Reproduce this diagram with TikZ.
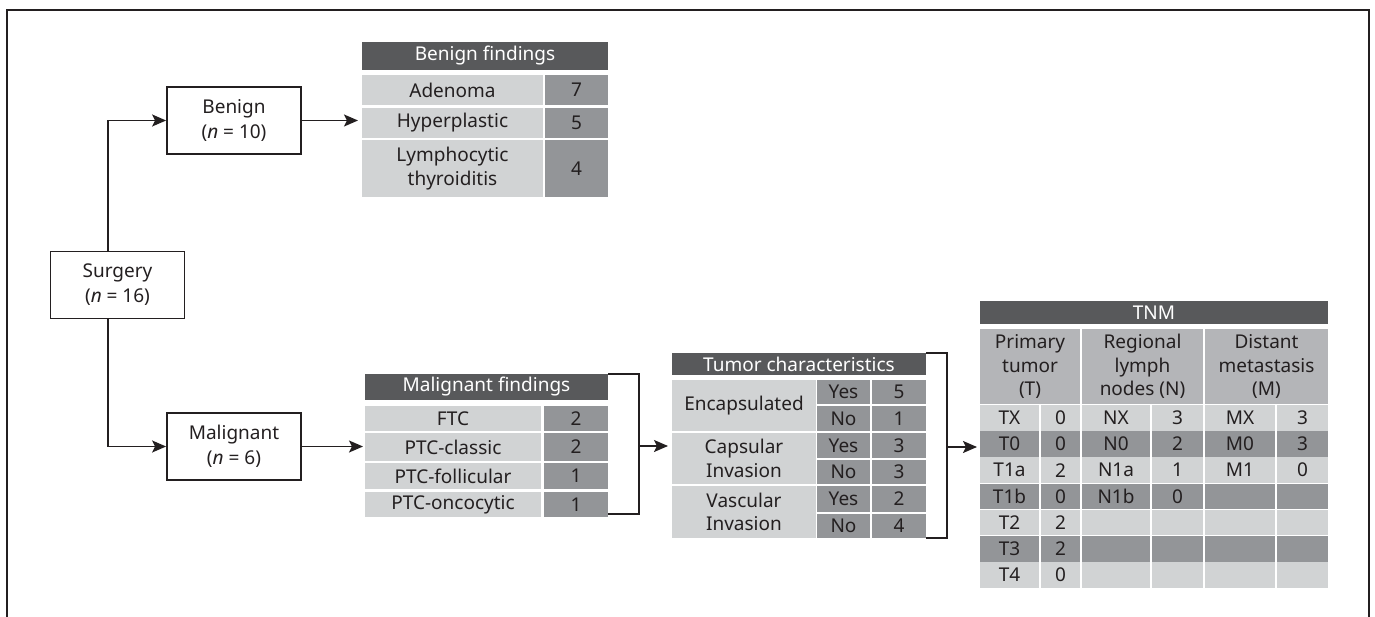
\documentclass[tikz,border=0pt]{standalone}
\usepackage{fontspec}
\setmainfont{Noto Sans}
\usetikzlibrary{arrows.meta}
\definecolor{txt}{HTML}{231F20}
\definecolor{hdr}{HTML}{58595B}
\definecolor{lite}{HTML}{D1D3D4}
\definecolor{midg}{HTML}{939598}
\definecolor{subg}{HTML}{B4B5B8}
\newcommand\tcell[7]{%
  \pgfmathsetmacro\tcW{#5-#3}\pgfmathsetmacro\tcH{#6-#4}%
  \pgfmathsetmacro\tcX{(#3+#5)/2}\pgfmathsetmacro\tcY{(#4+#6)/2}%
  \node[cellbase,#2,minimum width=\tcW pt,minimum height=\tcH pt] (#1) at (\tcX,\tcY) {#7};}
\newcommand\tnmrow[8]{%
  \pgfmathsetmacro\rT{405+26.2*#1}\pgfmathsetmacro\rB{\rT+25.5}%
  \tcell{t#1a}{#2}{980}{\rT}{1039}{\rB}{#3}%
  \tcell{t#1b}{#2}{1041}{\rT}{1080}{\rB}{#4}%
  \tcell{n#1a}{#2}{1082}{\rT}{1150}{\rB}{#5}%
  \tcell{n#1b}{#2}{1152}{\rT}{1203}{\rB}{#6}%
  \tcell{m#1a}{#2}{1205}{\rT}{1275}{\rB}{#7}%
  \tcell{m#1b}{#2}{1277}{\rT}{1328}{\rB}{#8}}
\begin{document}
\begin{tikzpicture}[x=1pt,y=-1pt,
  font=\fontsize{19}{23.5}\selectfont, text=txt,
  cellbase/.style={inner sep=0pt, outer sep=0pt, align=center},
  hcell/.style={fill=hdr, text=white},
  lcell/.style={fill=lite},
  mcell/.style={fill=midg},
  scell/.style={fill=subg},
  boxnode/.style={draw=txt, line width=1.8pt, minimum width=134pt, minimum height=67pt,
    align=center, inner sep=0pt, font=\fontsize{19}{25}\selectfont},
  conn/.style={draw=txt, line width=1.8pt},
  arr/.style={conn, -{Stealth[length=14pt,width=12pt,inset=3pt]}}]
\useasboundingbox (0,0) rectangle (1375,617);
% frame
\draw[conn] (7,617) -- (7,10) -- (1369,10) -- (1369,617);
% boxes
\node[boxnode] (surg) at (117.5,285) {Surgery\\(\textit{n} = 16)};
\node[boxnode] (ben) at (234,120.5) {Benign\\(\textit{n} = 10)};
\node[boxnode] (mal) at (234,446.5) {Malignant\\(\textit{n} = 6)};
% benign table
\tcell{bhd}{hcell}{362}{42}{608}{70}{Benign findings}
\tcell{bad}{lcell}{362}{75}{543}{105}{Adenoma}
\tcell{badn}{mcell}{545}{75}{608}{105}{7}
\tcell{bhyp}{lcell}{362}{108}{543}{138}{Hyperplastic}
\tcell{bhypn}{mcell}{545}{108}{608}{138}{5}
\tcell{bly}{lcell}{362}{140}{543}{197}{Lymphocytic\\thyroiditis}
\tcell{blyn}{mcell}{545}{140}{608}{197}{4}
% malignant table
\tcell{mhd}{hcell}{365}{374}{608}{400}{Malignant findings}
\tcell{mftc}{lcell}{365}{406}{541}{431}{FTC}
\tcell{mftcn}{mcell}{544}{406}{608}{431}{2}
\tcell{mcls}{lcell}{365}{433}{541}{461}{PTC-classic}
\tcell{mclsn}{mcell}{544}{433}{608}{461}{2}
\tcell{mfol}{lcell}{365}{463}{541}{489}{PTC-follicular}
\tcell{mfoln}{mcell}{544}{463}{608}{489}{1}
\tcell{monc}{lcell}{365}{492}{541}{517}{PTC-oncocytic}
\tcell{moncn}{mcell}{544}{492}{608}{517}{1}
% tumor characteristics
\tcell{thd}{hcell}{672}{353}{926}{375}{Tumor characteristics}
\tcell{tenc}{lcell}{672}{380}{816}{431}{Encapsulated}
\tcell{tency}{mcell}{817}{380}{870}{404}{Yes}
\tcell{tencyn}{mcell}{872}{380}{926}{404}{5}
\tcell{tencn}{mcell}{817}{406}{870}{431}{No}
\tcell{tencnn}{mcell}{872}{406}{926}{431}{1}
\tcell{tcap}{lcell}{672}{433}{816}{484}{Capsular\\Invasion}
\tcell{tcapy}{mcell}{817}{433}{870}{458}{Yes}
\tcell{tcapyn}{mcell}{872}{433}{926}{458}{3}
\tcell{tcapn}{mcell}{817}{460}{870}{484}{No}
\tcell{tcapnn}{mcell}{872}{460}{926}{484}{3}
\tcell{tvas}{lcell}{672}{486}{816}{538}{Vascular\\Invasion}
\tcell{tvasy}{mcell}{817}{486}{870}{512}{Yes}
\tcell{tvasyn}{mcell}{872}{486}{926}{512}{2}
\tcell{tvasn}{mcell}{817}{514}{870}{538}{No}
\tcell{tvasnn}{mcell}{872}{514}{926}{538}{4}
% TNM
\tcell{nhd}{hcell}{980}{301}{1328}{324}{TNM}
\tcell{nsT}{scell}{980}{329}{1080}{404}{Primary\\tumor\\(T)}
\tcell{nsN}{scell}{1082}{329}{1203}{404}{Regional\\lymph\\nodes (N)}
\tcell{nsM}{scell}{1205}{329}{1328}{404}{Distant\\metastasis\\(M)}
\tnmrow{0}{lcell}{TX}{0}{NX}{3}{MX}{3}
\tnmrow{1}{mcell}{T0}{0}{N0}{2}{M0}{3}
\tnmrow{2}{lcell}{T1a}{2}{N1a}{1}{M1}{0}
\tnmrow{3}{mcell}{T1b}{0}{N1b}{0}{}{}
\tnmrow{4}{lcell}{T2}{2}{}{}{}{}
\tnmrow{5}{mcell}{T3}{2}{}{}{}{}
\tnmrow{6}{lcell}{T4}{0}{}{}{}{}
% connectors
\draw[arr] ([xshift=-9.5pt]surg.north) |- (ben.west);
\draw[arr] ([xshift=-9.5pt]surg.south) |- (mal.west);
\draw[arr, shorten >=4pt] (ben.east) -- (ben.east -| bhyp.west);
\draw[arr, shorten >=2pt] (mal.east) -- (mal.east -| mcls.west);
\draw[conn] (mhd.north east) -- ++(31,0) |- ([yshift=3pt]moncn.south east);
\coordinate (b1m) at (639,446);
\draw[arr, shorten >=4pt] (b1m) -- (b1m -| tcap.west);
\draw[conn] (thd.north east) -- ++(21,0) |- (tvasnn.south east);
\coordinate (b2m) at (947,447);
\draw[arr, shorten >=3pt] (b2m) -- (b2m -| nhd.west);
\end{tikzpicture}
\end{document}
